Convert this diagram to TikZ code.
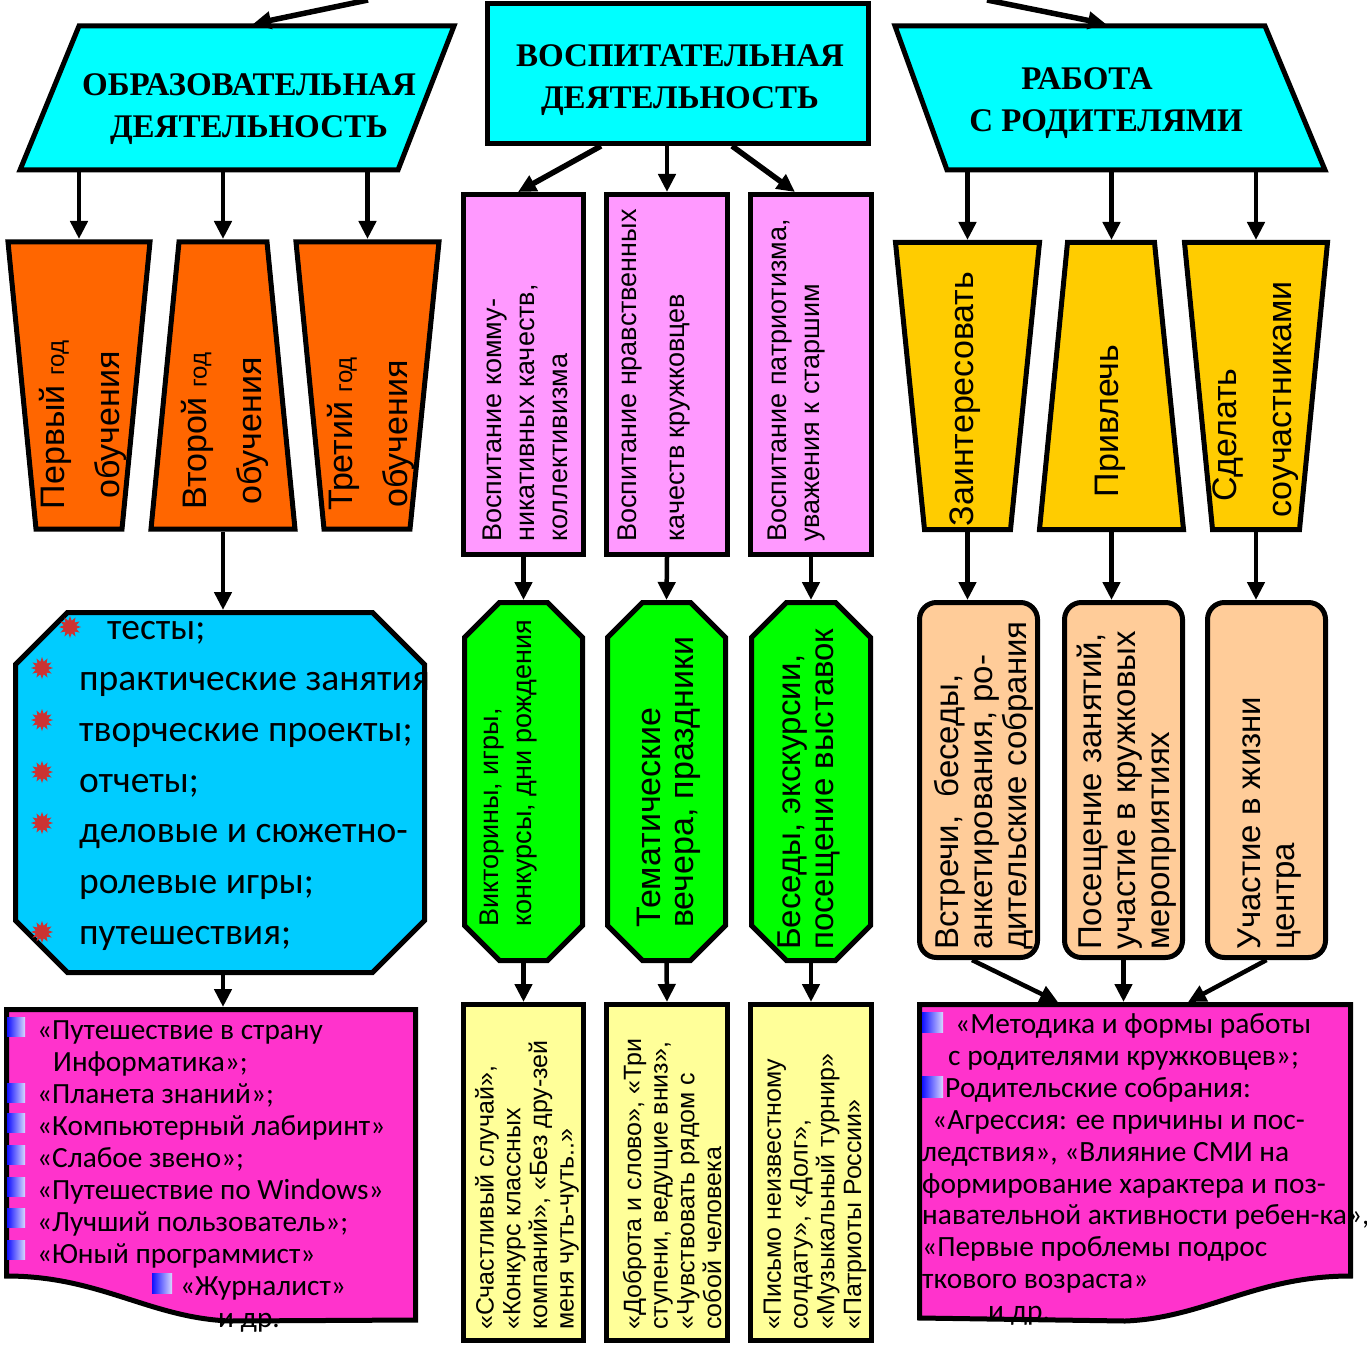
\documentclass[tikz,border=0pt]{standalone}
\usepackage{fontspec}
\setmainfont{Liberation Sans}
\newfontfamily\hdrfont{Liberation Serif}
\newfontfamily\calfont{Carlito}
\usetikzlibrary{arrows.meta,shapes.geometric}
\definecolor{hcyan}{HTML}{00FFFF}
\definecolor{orng}{HTML}{FF6600}
\definecolor{pnk}{HTML}{FF99FF}
\definecolor{grn}{HTML}{00FF00}
\definecolor{ylw}{HTML}{FFFF99}
\definecolor{gold}{HTML}{FFCC00}
\definecolor{peach}{HTML}{FFCC99}
\definecolor{sky}{HTML}{00CCFF}
\definecolor{mag}{HTML}{FF33CC}
\definecolor{bulred}{HTML}{CC3333}
\definecolor{sqblue}{HTML}{1010FF}
\definecolor{sqlight}{HTML}{D8D8FF}
\begin{document}
\begin{tikzpicture}[x=1pt,y=-1pt,
  shp/.style={draw=black,line width=5pt,line join=miter},
  arr/.style={draw=black,line width=4.5pt,-{Triangle[width=17pt,length=18pt]}},
  thickarr/.style={arr,line width=5.5pt},
  bbox/.style={inner sep=0pt,outer sep=0pt,draw=none},
  vt/.style={rotate=90,inner sep=0pt,align=left,anchor=west},
  vtc/.style={rotate=90,inner sep=0pt,align=center,anchor=center},
  hdr/.style={font=\hdrfont\bfseries\fontsize{33}{42}\selectfont,align=center,inner sep=0pt},
  calt/.style={inner sep=0pt,align=left,anchor=west},
  redstar/.style={star,star points=12,star point ratio=1.7,fill=bulred,inner sep=0pt,minimum size=22}]
\useasboundingbox (0,0) rectangle (1367,1348);

% ---------- headers ----------
\path[shp,fill=hcyan] (79,26) -- (454,26) -- (398,170) -- (20,170) -- cycle;
\node[bbox,minimum width=436,minimum height=148] (hl) at (237,98) {};
\node[hdr] (hlt) at (249,109.5) {ОБРАЗОВАТЕЛЬНАЯ\\ДЕЯТЕЛЬНОСТЬ};

\node[shp,fill=hcyan,minimum width=381,minimum height=140] (hm) at (678,73.5) {};
\node[hdr] (hmt) at (680,80) {ВОСПИТАТЕЛЬНАЯ\\ДЕЯТЕЛЬНОСТЬ};

\path[shp,fill=hcyan] (895,26) -- (1265,26) -- (1325,170) -- (947,170) -- cycle;
\node[bbox,minimum width=435,minimum height=148] (hr) at (1110.5,98) {};
\node[hdr] (hrt) at (1106,103.5) {РАБОТА\rule{38pt}{0pt}\\С РОДИТЕЛЯМИ};

% ---------- orange trapezoids ----------
\path[shp,fill=orng] (8,242) -- (150,242) -- (122,529) -- (36,529) -- cycle;
\node[bbox,minimum width=148,minimum height=293] (t1) at (79,385.5) {};
\node[vtc,font=\fontsize{34}{55}\selectfont] (t1t) at (82.5,425) {Первый {\fontsize{24}{24}\selectfont год}\\обучения};

\path[shp,fill=orng] (179,242) -- (267,242) -- (295,529) -- (151,529) -- cycle;
\node[bbox,minimum width=150,minimum height=293] (t2) at (223,385.5) {};
\node[vtc,font=\fontsize{34}{55}\selectfont] (t2t) at (225,431) {Второй {\fontsize{24}{24}\selectfont год}\\обучения};

\path[shp,fill=orng] (296,242) -- (439,242) -- (410,529) -- (324,529) -- cycle;
\node[bbox,minimum width=149,minimum height=293] (t3) at (367.5,385.5) {};
\node[vtc,font=\fontsize{34}{55}\selectfont] (t3t) at (370.5,434) {Третий {\fontsize{24}{24}\selectfont год}\\обучения};

% ---------- pink rectangles ----------
\node[shp,fill=pnk,minimum width=120,minimum height=360] (p1) at (523.5,374.5) {};
\node[vt,font=\fontsize{27}{33}\selectfont] (p1t) at (525.5,542) {Воспитание комму-\\никативных качеств,\\коллективизма};
\node[shp,fill=pnk,minimum width=121,minimum height=360] (p2) at (667,374.5) {};
\node[vt,font=\fontsize{27}{48}\selectfont] (p2t) at (654,542) {Воспитание нравственных\\качеств кружковцев};
\node[shp,fill=pnk,minimum width=121,minimum height=360] (p3) at (811,374.5) {};
\node[vt,font=\fontsize{27}{33}\selectfont] (p3t) at (796.5,542) {Воспитание патриотизма,\\уважения к старшим};

% ---------- green octagons ----------
\path[shp,fill=grn] (499.5,602.5) -- (547.5,602.5) -- (582.5,637.5) -- (582.5,925.5) -- (547.5,960.5) -- (499.5,960.5) -- (464.5,925.5) -- (464.5,637.5) -- cycle;
\node[bbox,minimum width=123,minimum height=363] (g1) at (523.5,781.5) {};
\node[vt,font=\fontsize{27}{33}\selectfont] (g1t) at (508.5,927) {Викторины, игры,\\конкурсы, дни рождения};

\path[shp,fill=grn] (642.5,602.5) -- (690.5,602.5) -- (725.5,637.5) -- (725.5,925.5) -- (690.5,960.5) -- (642.5,960.5) -- (607.5,925.5) -- (607.5,637.5) -- cycle;
\node[bbox,minimum width=123,minimum height=363] (g2) at (666.5,781.5) {};
\node[vt,font=\fontsize{34}{33}\selectfont] (g2t) at (668.5,928) {Тематические\\вечера, праздники};

\path[shp,fill=grn] (786.5,602.5) -- (835.5,602.5) -- (870.5,637.5) -- (870.5,925.5) -- (835.5,960.5) -- (786.5,960.5) -- (751.5,925.5) -- (751.5,637.5) -- cycle;
\node[bbox,minimum width=124,minimum height=363] (g3) at (811,781.5) {};
\node[vt,font=\fontsize{33}{33}\selectfont] (g3t) at (808.5,950) {Беседы, экскурсии,\\посещение выставок};

% ---------- pale yellow rectangles ----------
\node[shp,fill=ylw,minimum width=120,minimum height=336] (y1) at (523.5,1172.5) {};
\node[vt,font=\fontsize{25}{26.7}\selectfont] (y1t) at (527,1330) {«Счастливый случай»,\\«Конкурс классных\\компаний», «Без дру-зей\\меня чуть-чуть..»};
\node[shp,fill=ylw,minimum width=121,minimum height=336] (y2) at (667,1172.5) {};
\node[vt,font=\fontsize{25}{26.7}\selectfont] (y2t) at (672,1330) {«Доброта и слово», «Три\\ступени, ведущие вниз»,\\«Чувствовать рядом с\\собой человека};
\node[shp,fill=ylw,minimum width=121,minimum height=336] (y3) at (811,1172.5) {};
\node[vt,font=\fontsize{25}{26.7}\selectfont] (y3t) at (815,1330) {«Письмо неизвестному\\солдату», «Долг»,\\«Музыкальный турнир»\\«Патриоты России»};

% ---------- gold trapezoids ----------
\path[shp,fill=gold] (895.5,242.5) -- (1039.5,242.5) -- (1010.5,529.5) -- (924.5,529.5) -- cycle;
\node[bbox,minimum width=149,minimum height=292] (yt1) at (967.5,386) {};
\node[vtc,font=\fontsize{34}{55}\selectfont] (yt1t) at (965,399) {Заинтересовать};

\path[shp,fill=gold] (1067.5,242.5) -- (1154.5,242.5) -- (1183.5,529.5) -- (1039.5,529.5) -- cycle;
\node[bbox,minimum width=149,minimum height=292] (yt2) at (1111.5,386) {};
\node[vtc,font=\fontsize{34}{55}\selectfont] (yt2t) at (1110,421) {Привлечь};

\path[shp,fill=gold] (1184.5,242.5) -- (1327.5,242.5) -- (1299.5,529.5) -- (1212.5,529.5) -- cycle;
\node[bbox,minimum width=148,minimum height=292] (yt3) at (1256,386) {};
\node[vt,font=\fontsize{34}{55}\selectfont] (yt3t) at (1255.5,518) {\rule{16pt}{0pt}Сделать\\соучастниками};

% ---------- peach rounded boxes ----------
\node[shp,fill=peach,rounded corners=17,minimum width=118,minimum height=355] (r1) at (978.5,780) {};
\node[vt,font=\fontsize{33}{34}\selectfont] (r1t) at (983.5,950) {Встречи,\ \ беседы,\\анкетирования, ро-\\дительские собрания};
\node[shp,fill=peach,rounded corners=17,minimum width=118,minimum height=355] (r2) at (1123.5,780) {};
\node[vt,font=\fontsize{33}{34}\selectfont] (r2t) at (1126.5,950) {Посещение занятий,\\участие в кружковых\\мероприятиях};
\node[shp,fill=peach,rounded corners=17,minimum width=118,minimum height=355] (r3) at (1266.5,780) {};
\node[vt,font=\fontsize{33}{34}\selectfont] (r3t) at (1270,950) {Участие в жизни\\центра};

% ---------- blue octagon ----------
\path[shp,fill=sky] (67.5,612.5) -- (372.5,612.5) -- (424.5,664.5) -- (424.5,920.5) -- (372.5,972.5) -- (67.5,972.5) -- (15.5,920.5) -- (15.5,664.5) -- cycle;
\node[bbox,minimum width=414,minimum height=365] (bo) at (220,792.5) {};
\node[calt,font=\calfont\fontsize{37.5}{50.7}\selectfont] (bot) at (79,786) {\rule{28pt}{0pt}тесты;\\практические занятия\\творческие проекты;\\отчеты;\\деловые и сюжетно-\\ролевые игры;\\путешествия;};
\node[redstar] (s1) at (70,627) {};
\node[redstar] (s2) at (42,668) {};
\node[redstar] (s3) at (42,720) {};
\node[redstar] (s4) at (42,772) {};
\node[redstar] (s5) at (42,823) {};
\node[redstar] (s6) at (42,932) {};

% ---------- magenta documents ----------
\path[shp,fill=mag] (6.5,1009.5) -- (415.5,1009.5) -- (415.5,1320) -- (230,1321) .. controls (150,1318) and (100,1276) .. (6.5,1276) -- cycle;
\node[bbox,minimum width=414,minimum height=337] (m1) at (211,1175.5) {};
\node[calt,font=\calfont\fontsize{29.3}{32.1}\selectfont] (m1t) at (37,1176.5) {«Путешествие в страну\\\rule{16pt}{0pt}Информатика»;\\«Планета знаний»;\\«Компьютерный лабиринт»\\«Слабое звено»;\\«Путешествие по Windows»\\«Лучший пользователь»;\\«Юный программист»\\\rule{143pt}{0pt}«Журналист»\\\rule{181pt}{0pt}и др.};
\foreach \yy in {1017,1083,1113,1145,1177,1208,1240}
  \shade[left color=sqblue,right color=sqlight] (7,\yy) rectangle (25,{\yy+19});
\shade[left color=sqblue,right color=sqlight] (152,1273) rectangle (172,1293);

\path[shp,fill=mag] (919.5,1004.5) -- (1350.5,1004.5) -- (1350.5,1276) .. controls (1255,1276) and (1205,1318) .. (1125,1321) -- (919.5,1318) -- cycle;
\node[bbox,minimum width=436,minimum height=343] (m2) at (1135,1173.5) {};
\node[calt,font=\calfont\fontsize{29.4}{31.9}\selectfont] (m2t) at (922,1169.5) {\rule{33pt}{0pt}«Методика и формы работы\\\rule{26pt}{0pt}с родителями кружковцев»;\\\rule{23pt}{0pt}Родительские собрания:\\\rule{10pt}{0pt}«Агрессия: ее причины и пос-\\ледствия», «Влияние СМИ на\\формирование характера и поз-\\навательной активности ребен-ка»,\\«Первые проблемы подрос\\ткового возраста»\\\rule{66pt}{0pt}и др.};
\shade[left color=sqblue,right color=sqlight] (922,1012) rectangle (943,1032);
\shade[left color=sqblue,right color=sqlight] (922,1076) rectangle (943,1097);

% ---------- connectors ----------
\coordinate (srcL) at (368,0);
\coordinate (srcR) at (987,0);
\draw[thickarr] (srcL) -- ([xshift=16pt]hl.north);
\draw[thickarr] (srcR) -- ([xshift=-4.5pt]hr.north);

\draw[arr] (t1.north |- hl.south) -- (t1.north);
\draw[arr] (t2.north |- hl.south) -- (t2.north);
\draw[arr] (t3.north |- hl.south) -- (t3.north);

\draw[thickarr] ([xshift=-77pt]hm.south) -- ([xshift=-5.5pt]p1.north);
\draw[arr] (p2.north |- hm.south) -- (p2.north);
\draw[thickarr] ([xshift=54pt]hm.south) -- ([xshift=-16pt]p3.north);

\draw[arr] (p1.south) -- (g1.north);
\draw[arr] (p2.south) -- (g2.north);
\draw[arr] (p3.south) -- (g3.north);
\draw[arr] (g1.south) -- (y1.north);
\draw[arr] (g2.south) -- (y2.north);
\draw[arr] (g3.south) -- (y3.north);

\draw[arr] (t2.south) -- (t2.south |- bo.north);
\draw[arr] (t2.south |- bo.south) -- (t2.south |- m1.north);

\draw[arr] (yt1.north |- hr.south) -- (yt1.north);
\draw[arr] (yt2.north |- hr.south) -- (yt2.north);
\draw[arr] (yt3.north |- hr.south) -- (yt3.north);
\draw[arr] (yt1.south) -- (yt1.south |- r1.north);
\draw[arr] (yt2.south) -- (yt2.south |- r2.north);
\draw[arr] (yt3.south) -- (yt3.south |- r3.north);

\draw[arr] ([xshift=-6.5pt]r1.south) -- ([xshift=-77pt]m2.north);
\draw[arr] (r2.south) -- (r2.south |- m2.north);
\draw[arr] (r3.south) -- ([xshift=53pt]m2.north);
\end{tikzpicture}
\end{document}
